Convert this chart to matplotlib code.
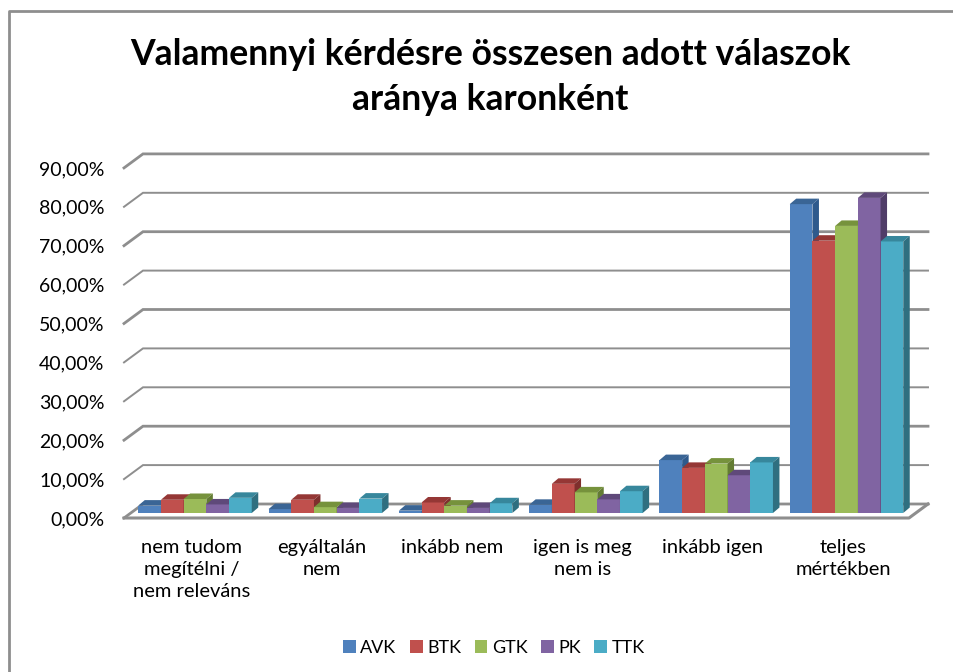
import numpy as np
import matplotlib
matplotlib.use('Agg')
import matplotlib.pyplot as plt
from matplotlib.lines import Line2D

plt.rcParams['font.family'] = ['Lato', 'DejaVu Sans']

categories = ['nem tudom\nmegítélni /\nnem releváns', 'egyáltalán\nnem', 'inkább nem',
              'igen is meg\nnem is', 'inkább igen', 'teljes\nmértékben']
avk = [1.9, 1.0, 0.6, 2.1, 13.6, 79.4]
btk = [3.4, 3.4, 2.7, 7.5, 11.6, 70.0]
gtk = [3.6, 1.5, 1.9, 5.3, 12.7, 73.8]
pk = [2.2, 1.3, 1.3, 3.5, 9.7, 81.0]
ttk = [3.9, 3.7, 2.5, 5.6, 13.0, 69.8]
series = ['AVK', 'BTK', 'GTK', 'PK', 'TTK']
values = [avk, btk, gtk, pk, ttk]
ticks = [0, 10, 20, 30, 40, 50, 60, 70, 80, 90]
tick_labels = ['%d,00%%' % t for t in ticks]

front = ['#4F81BD', '#C0504D', '#9BBB59', '#8064A2', '#4BACC6']
top = ['#3A6595', '#953735', '#76923C', '#5F497A', '#37879C']
side = ['#2F5A8C', '#7F2F2D', '#637C33', '#503D68', '#2F6F80']

W, H = 954, 672
fig = plt.figure(figsize=(W / 100, H / 100), dpi=100)

# px helpers only set up the axes box, everything else is in data units
left, right, y0_px, px_per_unit = 124, 928, 518, 3.89
ax = fig.add_axes([left / W, (H - y0_px) / H, (right - left) / W, 92 * px_per_unit / H])
group_px = 130.3
ax.set_xlim((left - 195) / group_px, (right - 195) / group_px)
ax.set_ylim(0, 92)
for s in ax.spines.values():
    s.set_visible(False)

back_dx = 19 / group_px
back_dy = 14 / px_per_unit
base_dy = 5 / px_per_unit
bar_w = 22.7 / group_px
bar_dx = 6.5 / group_px
bar_dy = 5.5 / px_per_unit
x_min = ax.get_xlim()[0]
x_max = ax.get_xlim()[1]

grid = '#8E8E8E'
for t in ticks:
    lw = 2.0 if t in (0, 20, 50, 70, 90) else 1.4
    ax.plot([x_min, x_min + back_dx, x_max], [t, t + back_dy, t + back_dy],
            color=grid, lw=lw, zorder=1, clip_on=False, solid_joinstyle='miter')
ax.plot([x_min, x_max - back_dx, x_max], [0, 0, back_dy], color=grid, lw=2.2,
        zorder=1, clip_on=False)

z = 2
for i in range(len(categories)):
    for j, vals in enumerate(values):
        x = i + (j - 2.5) * bar_w
        v = vals[i]
        ax.bar(x, v, bar_w, bottom=base_dy, align='edge', color=front[j],
               linewidth=0, zorder=z, label=series[j] if i == 0 else None)
        y = base_dy + v
        ax.fill([x, x + bar_dx, x + bar_w + bar_dx, x + bar_w],
                [y, y + bar_dy, y + bar_dy, y], color=top[j], lw=0, zorder=z)
        ax.fill([x + bar_w, x + bar_w + bar_dx, x + bar_w + bar_dx, x + bar_w],
                [base_dy, base_dy + bar_dy, y + bar_dy, y], color=side[j], lw=0, zorder=z)
        z += 1

ax.set_yticks(ticks)
ax.set_yticklabels(tick_labels, fontsize=14, color='black')
ax.set_xticks(np.arange(len(categories)) - 0.025)
ax.set_xticklabels(categories, fontsize=14.5, color='black', linespacing=1.38)
ax.tick_params(axis='both', length=0)
ax.tick_params(axis='y', pad=14)
ax.tick_params(axis='x', pad=15)

fig.text(490 / W, 1 - 77 / H, 'Valamennyi kérdésre összesen adott válaszok\naránya karonként',
         ha='center', va='center', fontsize=25.6, fontweight='bold', color='black', linespacing=1.42)

handles, labels = ax.get_legend_handles_labels()
fig.legend(handles, labels, loc='center', bbox_to_anchor=(494 / W, 1 - 648 / H), ncol=5,
           frameon=False, fontsize=13, handlelength=0.7, handleheight=0.7,
           handletextpad=0.25, columnspacing=0.75)

# chart frame: top and left edges run off the picture
fig.add_artist(Line2D([9 / W, 9 / W, 1], [0, 1 - 11 / H, 1 - 11 / H],
                      transform=fig.transFigure, color='#8E8E8E', lw=2))

fig.savefig('out.png', dpi=100)
